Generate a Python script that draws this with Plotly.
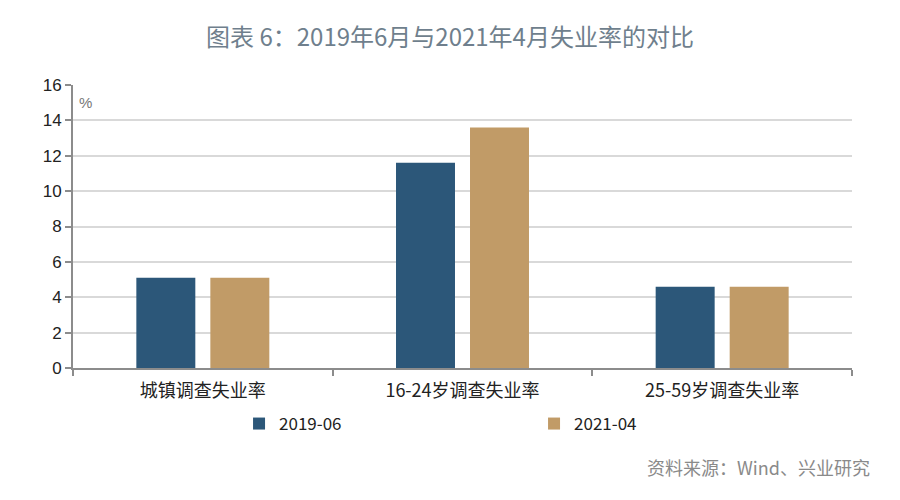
import plotly.graph_objects as go

categories = ["城镇调查失业率", "16-24岁调查失业率", "25-59岁调查失业率"]
series_names = ["2019-06", "2021-04"]
values_2019_06 = [5.1, 11.6, 4.6]
values_2021_04 = [5.1, 13.6, 4.6]
y_ticks = [0, 2, 4, 6, 8, 10, 12, 14, 16]

colors = ["#2c5779", "#c19b67"]
font_cjk = "Noto Sans CJK SC"

fig = go.Figure()
for name, vals, col in zip(series_names, [values_2019_06, values_2021_04], colors):
    fig.add_trace(go.Bar(x=categories, y=vals, name=name, marker_color=col,
                         marker_line_width=0))

fig.update_layout(
    width=900, height=500,
    paper_bgcolor="white", plot_bgcolor="white",
    margin=dict(l=73, r=48, t=85, b=132, autoexpand=False),
    barmode="group", bargap=0.43, bargroupgap=0.203,
    font=dict(family=font_cjk, size=15, color="#222222"),
    title=dict(text="图表 6：2019年6月与2021年4月失业率的对比",
               x=0.5, xanchor="center", xref="container", y=0.925, yanchor="middle",
               font=dict(family=font_cjk, size=24, color="#6f7f8d")),
    showlegend=True,
    legend=dict(orientation="h", x=0.2656, xref="container", y=0.152, yref="container",
                yanchor="middle", xanchor="left", entrywidth=250, entrywidthmode="pixels",
                font=dict(family=font_cjk, size=17, color="#222222"),
                bgcolor="rgba(0,0,0,0)"),
)
fig.update_xaxes(
    type="category", showgrid=False, showline=True, linecolor="#8c8c8c", linewidth=2,
    ticks="outside", tickson="boundaries", ticklen=6, tickcolor="#8c8c8c", tickwidth=1.5,
    ticklabelstandoff=5, automargin=False,
    tickfont=dict(family=font_cjk, size=18, color="#222222"),
)
fig.update_yaxes(
    range=[0, 16], tickvals=y_ticks, showgrid=True, gridcolor="#d9d9d9", gridwidth=2,
    showline=True, linecolor="#8c8c8c", linewidth=2,
    ticks="outside", ticklen=6, tickcolor="#8c8c8c", tickwidth=1.5,
    automargin=False,
    tickfont=dict(family="Liberation Sans", size=17, color="#222222"),
    zeroline=False,
)
fig.add_annotation(text="%", x=0, xref="paper", y=15, yref="y", xanchor="left", xshift=4,
                   showarrow=False, font=dict(family="Liberation Sans", size=15, color="#777777"))
fig.add_annotation(text="资料来源：Wind、兴业研究", x=1, xref="paper", y=-0.35, yref="paper",
                   xanchor="right", xshift=20, yanchor="middle",
                   showarrow=False, font=dict(family=font_cjk, size=18, color="#8a8a8a"))

fig.write_html("out.html")
